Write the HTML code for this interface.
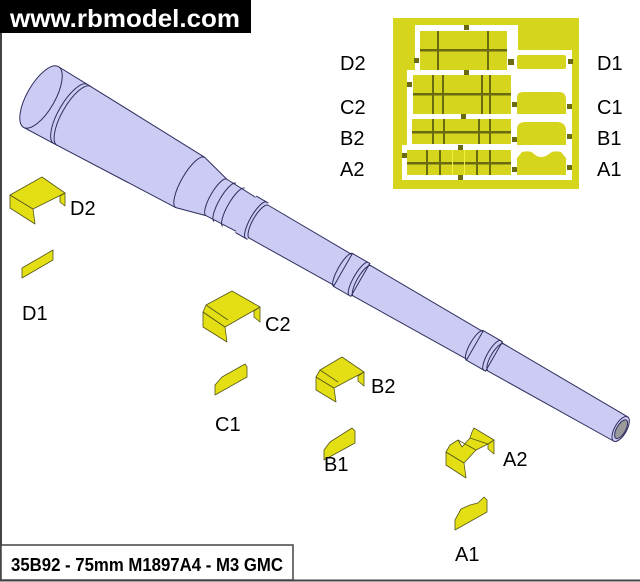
<!DOCTYPE html>
<html><head><meta charset="utf-8"><style>
html,body{margin:0;padding:0;background:#fff}
body{width:640px;height:582px;overflow:hidden;position:relative;font-family:"Liberation Sans",Arial,sans-serif}
svg{position:absolute;left:0;top:0}
</style></head><body>
<svg width="640" height="582" viewBox="0 0 640 582" font-family="Liberation Sans, Arial, sans-serif">
<!-- frame -->
<line x1="1" y1="30" x2="1" y2="581" stroke="#444" stroke-width="2"/>
<line x1="0" y1="580.5" x2="640" y2="580.5" stroke="#444" stroke-width="2"/>
<rect x="0" y="0" width="251" height="33" fill="#000"/>
<text x="10" y="27" font-size="25" font-weight="bold" fill="#fff" textLength="230" lengthAdjust="spacingAndGlyphs">www.rbmodel.com</text>
<rect x="1" y="545" width="292" height="35" fill="#fff" stroke="#444" stroke-width="1.5"/>
<text x="11" y="571" font-size="18" font-weight="bold" fill="#000" textLength="272" lengthAdjust="spacingAndGlyphs">35B92 - 75mm M1897A4 - M3 GMC</text>

<!-- barrel -->
<g transform="translate(41,97) rotate(29.8)" fill="#cbcbf4" stroke="#2e2e5e" stroke-width="1">
  <polygon points="0,-35 34,-34 172,-29 202,-21 250,-19 500,-16 668,-14 668,14 500,16 250,19 202,21 172,29 34,34 0,35"/>
  <path d="M172,-29 A9,29 0 0 0 172,29" fill="none"/>
  <path d="M202,-21 A6,21 0 0 0 202,21" fill="none"/>
  <path d="M34,-34 A12,34 0 0 0 34,34" fill="none"/>
  <path d="M38,-34 A12,34 0 0 0 38,34" fill="none"/>
  <path d="M212,-22 A6,22 0 0 0 212,22" fill="none"/>
  <path d="M222,-22 A6,22 0 0 0 222,22" fill="none"/>
  <rect x="236" y="-21" width="14" height="42" stroke="none"/>
  <path d="M236,-21 L250,-21" fill="none"/>
  <path d="M236,21 L250,21" fill="none"/>
  <path d="M248,-21 A6,21 0 0 0 248,21" fill="none"/>
  <path d="M251,-19 A6,19 0 0 0 251,19" fill="none"/>
  <polygon points="348,-19 368,-19 368,19 348,19"/>
  <path d="M348,-19 A5,19 0 0 0 348,19" fill="none"/>
  <path d="M366,-19 A5,19 0 0 0 366,19" fill="none"/>
  <path d="M370,-17.5 A5,17.5 0 0 0 370,17.5" fill="none"/>
  <polygon points="500,-17 522,-17 522,17 500,17"/>
  <path d="M500,-17 A5,17 0 0 0 500,17" fill="none"/>
  <path d="M520,-17 A5,17 0 0 0 520,17" fill="none"/>
  <path d="M524,-15.5 A5,15.5 0 0 0 524,15.5" fill="none"/>
  <ellipse cx="0" cy="0" rx="14" ry="35"/>
  <ellipse cx="668" cy="0" rx="6" ry="14"/>
  <ellipse cx="668.5" cy="0" rx="4.5" ry="10.5" fill="#9a9a9a"/>
</g>

<!-- fret -->
<rect x="393" y="18" width="186" height="171" fill="#d6d51e"/>
<polygon points="415,25 518,25 518,50 572,50 572,180 402,180 402,145 407,145 407,70 415,70" fill="#fff"/>
<g fill="#d6d51e">
  <rect x="420" y="31" width="87" height="39"/>
  <rect x="517" y="55" width="49" height="14" rx="2"/>
  <rect x="413" y="75" width="98" height="39"/>
  <path d="M517,114 L517,97 Q517,92 524,92 L559,92 Q566,92 566,100 L566,114Z"/>
  <rect x="412" y="119" width="99" height="25"/>
  <path d="M517,145 L517,129 Q517,122 526,122 L557,122 Q566,122 566,131 L566,145Z"/>
  <rect x="407" y="150" width="104" height="25"/>
  <path d="M517,175 L517,158 L522,152 Q531,150 534,154 Q541,160 549,154 Q553,150 561,152 L566,158 L566,175Z"/>
</g>
<g fill="#6a6a10">
  <rect x="437" y="31" width="2" height="39"/><rect x="487" y="31" width="2" height="39"/><rect x="420" y="49" width="87" height="2.5"/>
  <rect x="432" y="75" width="2" height="39"/><rect x="442" y="75" width="2" height="39"/><rect x="481" y="75" width="2" height="39"/><rect x="489" y="75" width="2" height="39"/><rect x="413" y="93" width="98" height="2.5"/>
  <rect x="432" y="119" width="2" height="25"/><rect x="443" y="119" width="2" height="25"/><rect x="478" y="119" width="2" height="25"/><rect x="489" y="119" width="2" height="25"/><rect x="412" y="131" width="99" height="2.5"/>
  <rect x="426" y="150" width="2" height="25"/><rect x="439" y="150" width="2" height="25"/><rect x="476" y="150" width="2" height="25"/><rect x="489" y="150" width="2" height="25"/><rect x="407" y="162" width="104" height="2.5"/>
  <rect x="464" y="25" width="5" height="5"/><rect x="414" y="58" width="5" height="5"/><rect x="508" y="59" width="6" height="6"/><rect x="568" y="59" width="5" height="5"/>
  <rect x="464" y="70" width="5" height="5"/><rect x="407" y="82" width="5" height="5"/><rect x="512" y="102" width="5" height="5"/><rect x="567" y="104" width="5" height="5"/>
  <rect x="461" y="114" width="5" height="5"/><rect x="512" y="137" width="5" height="5"/><rect x="567" y="134" width="5" height="5"/>
  <rect x="458" y="145" width="5" height="5"/><rect x="402" y="153" width="5" height="5"/><rect x="512" y="167" width="5" height="5"/><rect x="567" y="165" width="5" height="5"/><rect x="458" y="175" width="5" height="5"/>
</g>
<rect x="452" y="150" width="1" height="25" fill="#f4f040"/><rect x="464" y="150" width="1" height="25" fill="#f4f040"/>

<g font-size="20" fill="#000">
  <text x="340" y="70">D2</text><text x="597" y="70">D1</text>
  <text x="340" y="114">C2</text><text x="597" y="114">C1</text>
  <text x="340" y="145">B2</text><text x="597" y="145">B1</text>
  <text x="340" y="176">A2</text><text x="597" y="176">A1</text>
</g>

<!-- parts -->
<g fill="#e3df14" stroke="#55551a" stroke-width="0.8" stroke-linejoin="round">
  <polygon points="60,196 65,193 65,206 60,202"/>
  <polygon points="10,195 33,209 35,224 10,208"/>
  <polygon points="10,195 42,177 65,193 33,209"/>
  <polygon points="22,268 53,250 53,260 22,278"/>
  <polygon points="254,311 260,307 260,322 254,317"/>
  <polygon points="203,312 225,327 227,342 203,327"/>
  <polygon points="203,312 206,305 232,291 260,307 225,327"/>
  <line x1="206" y1="305" x2="228" y2="320"/>
  <polygon points="215,395 215,385 222,377 245,364 247,367 247,377"/>
  <polygon points="358,376 364,372 364,386 358,381"/>
  <polygon points="316,377 334,388 336,402 316,390"/>
  <polygon points="316,377 320,370 342,357 364,372 334,388"/>
  <line x1="320" y1="370" x2="338" y2="382"/>
  <polygon points="324,460 324,450 330,442 352,428 355,431 355,443"/>
  <polygon points="488,444 494,440 494,454 488,449"/>
  <polygon points="446,452 464,463 466,478 446,465"/>
  <polygon points="446,452 450,445 458,440 462,447 470,438 472,432 474,428 494,440 488,444 476,450 464,463"/>
  <line x1="458" y1="440" x2="476" y2="450"/>
  <line x1="470" y1="438" x2="488" y2="444"/>
  <polygon points="455,530 455,520 461,509 470,505 478,503 484,497 487,500 487,512"/>
</g>

<g font-size="20" fill="#000">
  <text x="70" y="215">D2</text>
  <text x="22" y="320">D1</text>
  <text x="265" y="331">C2</text>
  <text x="215" y="431">C1</text>
  <text x="371" y="393">B2</text>
  <text x="324" y="471">B1</text>
  <text x="503" y="466">A2</text>
  <text x="455" y="561">A1</text>
</g>
</svg>
</body></html>
